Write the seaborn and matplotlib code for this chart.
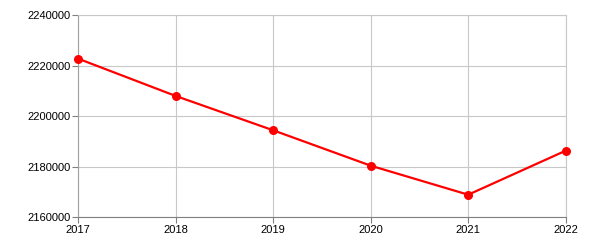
import matplotlib
matplotlib.use("Agg")
import matplotlib.pyplot as plt
import seaborn as sns
import pandas as pd

years = [2017, 2018, 2019, 2020, 2021, 2022]
values = [2222800, 2208040, 2194450, 2180440, 2168950, 2186380]
y_ticks = [2160000, 2180000, 2200000, 2220000, 2240000]

sns.set_style("white")
plt.rcParams['font.family'] = ['Liberation Sans', 'DejaVu Sans']

df = pd.DataFrame({"year": years, "value": values})

fig = plt.figure(figsize=(6, 2.5), dpi=100)
ax = fig.add_axes([0.1305, 0.1308, 0.8123, 0.808])
sns.lineplot(data=df, x="year", y="value", ax=ax, color="#ff0000", linewidth=1.6,
             marker="o", markersize=6.5, markeredgewidth=0, markerfacecolor="#ff0000",
             clip_on=False, zorder=3)

ax.set_xlim(years[0], years[-1])
ax.set_ylim(y_ticks[0], y_ticks[-1])
ax.set_xticks(years)
ax.set_xticklabels([str(y) for y in years])
ax.set_yticks(y_ticks)
ax.set_yticklabels([str(v) for v in y_ticks])
ax.set_xlabel("")
ax.set_ylabel("")
ax.grid(True, color="#c8c8c8", linewidth=0.8)
ax.set_axisbelow(True)
for side in ["top", "right"]:
    ax.spines[side].set_color("#c8c8c8")
    ax.spines[side].set_linewidth(0.8)
ax.spines["left"].set_color("#a0a0a0")
ax.spines["bottom"].set_color("#808080")
ax.spines["left"].set_linewidth(0.8)
ax.spines["bottom"].set_linewidth(0.8)
ax.tick_params(axis="both", which="both", length=4, width=0.8, color="#808080",
               labelsize=8, labelcolor="black", pad=1.5, bottom=True, left=True)

fig.savefig("out.png", dpi=100)
